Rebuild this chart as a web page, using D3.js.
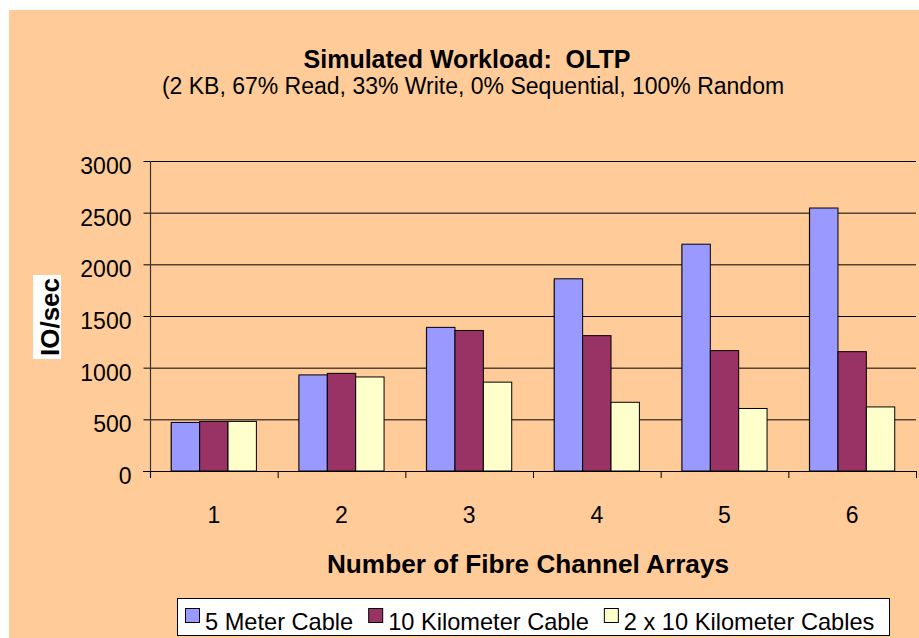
<!DOCTYPE html>
<html>
<head>
<meta charset="utf-8">
<script src="https://cdn.jsdelivr.net/npm/d3@7/dist/d3.min.js"></script>
<style>
  html, body { margin: 0; padding: 0; background: #ffffff; }
  svg { display: block; }
  text { font-family: "Liberation Sans", Arial, Helvetica, sans-serif; fill: #000; }
</style>
</head>
<body>
<svg id="chart" width="919" height="638"></svg>
<script>
const categories = ["1", "2", "3", "4", "5", "6"];
const seriesNames = ["5 Meter Cable", "10 Kilometer Cable", "2 x 10 Kilometer Cables"];
const fiveMeter = [470, 930, 1390, 1860, 2195, 2545];
const tenKm = [480, 945, 1360, 1310, 1165, 1155];
const twoTenKm = [480, 910, 860, 665, 605, 620];
const yTicks = [0, 500, 1000, 1500, 2000, 2500, 3000];
const seriesColors = ["#9999FF", "#993366", "#FFFFCC"];

const seriesValues = [fiveMeter, tenKm, twoTenKm];
const rows = categories.map((c, i) => ({
  cat: c,
  vals: seriesNames.map((s, k) => ({ series: s, value: seriesValues[k][i], color: seriesColors[k] }))
}));

const svg = d3.select("#chart");

// background
svg.append("rect").attr("x", 9).attr("y", 10).attr("width", 910).attr("height", 628).attr("fill", "#FFCC99");

const plot = { left: 150, right: 916, top: 161, bottom: 471 };

const x = d3.scaleBand().domain(categories).range([plot.left, plot.right]).paddingInner(0).paddingOuter(0);
const xs = d3.scaleBand().domain(seriesNames).range([0, x.bandwidth()]).paddingInner(0).paddingOuter(0.75);
const y = d3.scaleLinear().domain([0, 3000]).range([plot.bottom, plot.top]);

// gridlines
svg.append("g").selectAll("line").data(yTicks.filter(d => d > 0)).join("line")
  .attr("x1", plot.left).attr("x2", plot.right)
  .attr("y1", d => y(d) + 0.5).attr("y2", d => y(d) + 0.5)
  .attr("stroke", "#000").attr("stroke-width", 1);

// bars
const groups = svg.append("g").selectAll("g").data(rows).join("g")
  .attr("transform", d => `translate(${x(d.cat)},0)`);
groups.selectAll("rect.shadow").data(d => d.vals).join("rect")
  .attr("class", "shadow")
  .attr("x", d => xs(d.series) - 1)
  .attr("y", d => y(d.value) + 1)
  .attr("width", xs.bandwidth())
  .attr("height", d => y(0) - y(d.value) - 1)
  .attr("fill", "rgba(0,0,0,0.25)");
groups.selectAll("rect.bar").data(d => d.vals).join("rect")
  .attr("class", "bar")
  .attr("x", d => xs(d.series))
  .attr("y", d => y(d.value))
  .attr("width", xs.bandwidth())
  .attr("height", d => y(0) - y(d.value))
  .attr("fill", d => d.color)
  .attr("stroke", "#000").attr("stroke-width", 1);

// y axis
const yAxis = d3.axisLeft(y).tickValues(yTicks).tickSize(7).tickPadding(12).tickFormat(d3.format("d"));
const gy = svg.append("g").attr("transform", `translate(${plot.left + 0.5},0)`).call(yAxis);
gy.select(".domain").remove();
gy.selectAll(".tick line").attr("stroke", "#000");
gy.selectAll(".tick text").attr("font-size", 23).attr("font-family", "Liberation Sans, Arial, sans-serif")
  .attr("dy", null).attr("y", 12.5).attr("fill", "#000");
svg.append("line").attr("x1", plot.left + 0.5).attr("x2", plot.left + 0.5)
  .attr("y1", plot.top).attr("y2", plot.bottom + 6).attr("stroke", "#333").attr("stroke-width", 1.2);

// x axis
const xAxis = d3.axisBottom(x).tickSize(0).tickPadding(0);
const gx = svg.append("g").attr("transform", `translate(0,${plot.bottom + 0.5})`).call(xAxis);
gx.select(".domain").remove();
gx.selectAll(".tick text").attr("font-size", 23).attr("font-family", "Liberation Sans, Arial, sans-serif")
  .attr("dy", null).attr("y", 51).attr("fill", "#000");
svg.append("line").attr("x1", plot.left - 7).attr("x2", plot.right)
  .attr("y1", plot.bottom + 0.5).attr("y2", plot.bottom + 0.5).attr("stroke", "#000");
const boundaries = categories.map(c => x(c)).concat([plot.right]);
svg.append("g").selectAll("line").data(boundaries).join("line")
  .attr("x1", d => d + 0.5).attr("x2", d => d + 0.5)
  .attr("y1", plot.bottom).attr("y2", plot.bottom + 7)
  .attr("stroke", "#000");

// titles
svg.append("text").attr("x", 467).attr("y", 68).attr("text-anchor", "middle")
  .attr("font-size", 25).attr("font-weight", "bold").style("white-space", "pre")
  .text("Simulated Workload:  OLTP");
svg.append("text").attr("x", 473).attr("y", 94).attr("text-anchor", "middle")
  .attr("font-size", 23)
  .text("(2 KB, 67% Read, 33% Write, 0% Sequential, 100% Random");
svg.append("text").attr("x", 528).attr("y", 573).attr("text-anchor", "middle")
  .attr("font-size", 26.2).attr("font-weight", "bold")
  .text("Number of Fibre Channel Arrays");

// y label with white box
svg.append("rect").attr("x", 33).attr("y", 275).attr("width", 28).attr("height", 84).attr("fill", "#fff");
svg.append("text").attr("transform", "translate(59,317) rotate(-90)").attr("text-anchor", "middle")
  .attr("font-size", 26).attr("font-weight", "bold").text("IO/sec");

// legend
const legend = svg.append("g");
legend.append("rect").attr("x", 177.5).attr("y", 598.5).attr("width", 712).attr("height", 37)
  .attr("fill", "#fff").attr("stroke", "#000").attr("stroke-width", 1);
let lx = 185;
seriesNames.forEach((s, k) => {
  legend.append("rect").attr("x", lx + 0.5).attr("y", 608.5).attr("width", 14).attr("height", 14)
    .attr("fill", seriesColors[k]).attr("stroke", "#000");
  const t = legend.append("text").attr("x", lx + 20).attr("y", 630).attr("font-size", 23.6).text(s);
  lx = lx + 20 + t.node().getComputedTextLength() + 15;
});
</script>
</body>
</html>
